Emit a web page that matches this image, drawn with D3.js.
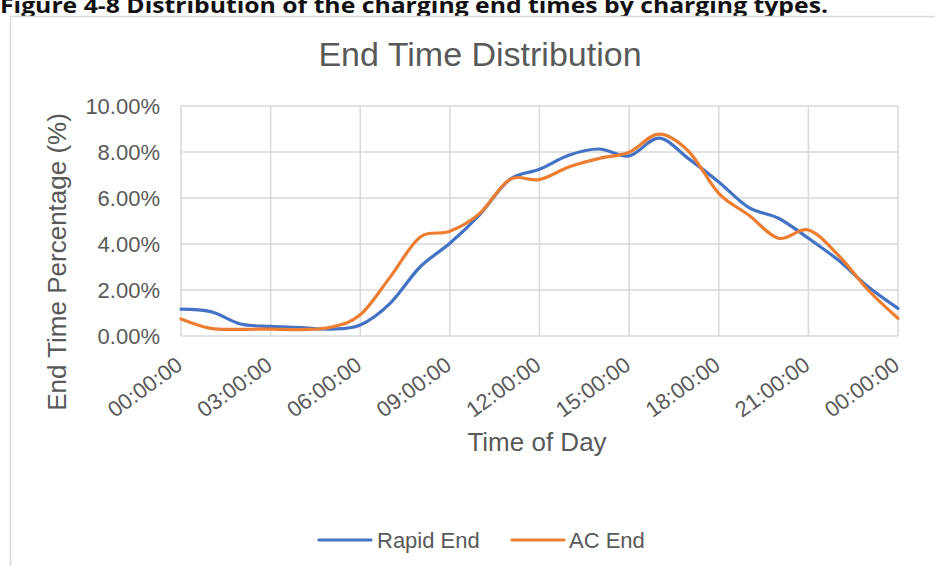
<!DOCTYPE html>
<html>
<head>
<meta charset="utf-8">
<script src="https://cdn.jsdelivr.net/npm/d3@7"></script>
<style>
  html, body { margin: 0; padding: 0; background: #fff; }
  svg { display: block; }
</style>
</head>
<body>
<svg id="chart" width="935" height="566"></svg>
<script>
// ---- data ----
const hours = [0,1,2,3,4,5,6,7,8,9,10,11,12,13,14,15,16,17,18,19,20,21,22,23,24];
const rapidEnd = [1.17,1.06,0.52,0.42,0.37,0.30,0.48,1.42,3.00,4.03,5.28,6.80,7.25,7.87,8.13,7.83,8.60,7.70,6.70,5.59,5.12,4.25,3.30,2.14,1.20];
const acEnd    = [0.74,0.33,0.29,0.30,0.28,0.38,0.92,2.56,4.29,4.55,5.33,6.80,6.80,7.36,7.72,7.99,8.78,8.02,6.20,5.26,4.25,4.61,3.52,2.00,0.77];
const xTickHours = [0,3,6,9,12,15,18,21,24];
const xTickLabels = ["00:00:00","03:00:00","06:00:00","09:00:00","12:00:00","15:00:00","18:00:00","21:00:00","00:00:00"];
const yTicks = [0,2,4,6,8,10];
const seriesNames = ["Rapid End","AC End"];
const seriesColors = ["#4472c4","#ed7d31"];

const svg = d3.select("#chart");
const font = "'Liberation Sans', Arial, sans-serif";
const grey = "#595959";

// caption (partly cut off at top, as in the reference)
svg.append("text")
  .attr("x", 0).attr("y", 13)
  .attr("font-family", "'Open Sans', 'Liberation Sans', sans-serif")
  .attr("font-weight", "bold")
  .attr("font-size", 22)
  .attr("textLength", 828)
  .attr("lengthAdjust", "spacingAndGlyphs")
  .attr("fill", "#111")
  .text("Figure 4-8 Distribution of the charging end times by charging types.");

// chart frame
svg.append("rect")
  .attr("x", 10.5).attr("y", 16.5)
  .attr("width", 940).attr("height", 570)
  .attr("fill", "#fff")
  .attr("stroke", "#d9d9d9").attr("stroke-width", 1.5);

const x = d3.scaleLinear().domain([0, 24]).range([181, 898]);
const y = d3.scaleLinear().domain([0, 10]).range([336, 106]);

// title
svg.append("text")
  .attr("x", 480).attr("y", 66)
  .attr("text-anchor", "middle")
  .attr("font-family", font).attr("font-size", 34)
  .attr("fill", grey)
  .text("End Time Distribution");

// gridlines
const grid = svg.append("g");
grid.selectAll("line.h").data(yTicks).enter().append("line")
  .attr("x1", x(0)).attr("x2", x(24))
  .attr("y1", d => y(d)).attr("y2", d => y(d))
  .attr("stroke", "#d9d9d9").attr("stroke-width", 1.5);
grid.selectAll("line.v").data(xTickHours).enter().append("line")
  .attr("x1", d => x(d)).attr("x2", d => x(d))
  .attr("y1", y(0)).attr("y2", y(10))
  .attr("stroke", "#d9d9d9").attr("stroke-width", 1.5);

// y tick labels
svg.append("g").selectAll("text").data(yTicks).enter().append("text")
  .attr("x", 160).attr("y", d => y(d))
  .attr("dy", "0.36em")
  .attr("text-anchor", "end")
  .attr("font-family", font).attr("font-size", 22)
  .attr("fill", grey)
  .text(d => d3.format(".2f")(d) + "%");

// x tick labels (rotated)
svg.append("g").selectAll("text").data(xTickHours).enter().append("text")
  .attr("transform", d => `translate(${x(d) + 3},${368}) rotate(-36)`)
  .attr("text-anchor", "end")
  .attr("font-family", font).attr("font-size", 22)
  .attr("fill", grey)
  .text((d, i) => xTickLabels[i]);

// axis titles
svg.append("text")
  .attr("transform", "translate(66,262) rotate(-90)")
  .attr("text-anchor", "middle")
  .attr("font-family", font).attr("font-size", 26)
  .attr("fill", grey)
  .text("End Time Percentage (%)");

svg.append("text")
  .attr("x", 537).attr("y", 451)
  .attr("text-anchor", "middle")
  .attr("font-family", font).attr("font-size", 26)
  .attr("fill", grey)
  .text("Time of Day");

// lines
const line = d3.line()
  .x((d, i) => x(hours[i]))
  .y(d => y(d))
  .curve(d3.curveCardinal.tension(0));

[rapidEnd, acEnd].forEach((s, i) => {
  svg.append("path")
    .datum(s)
    .attr("d", line)
    .attr("fill", "none")
    .attr("stroke", seriesColors[i])
    .attr("stroke-width", 3.2)
    .attr("stroke-linejoin", "round")
    .attr("stroke-linecap", "round");
});

// legend
const legendItems = [{x: 319, tx: 377}, {x: 512, tx: 569}];
legendItems.forEach((p, i) => {
  svg.append("line")
    .attr("x1", p.x).attr("x2", p.x + 52)
    .attr("y1", 540).attr("y2", 540)
    .attr("stroke", seriesColors[i]).attr("stroke-width", 3.2)
    .attr("stroke-linecap", "round");
  svg.append("text")
    .attr("x", p.tx).attr("y", 548)
    .attr("font-family", font).attr("font-size", 22)
    .attr("fill", grey)
    .text(seriesNames[i]);
});
</script>
</body>
</html>
